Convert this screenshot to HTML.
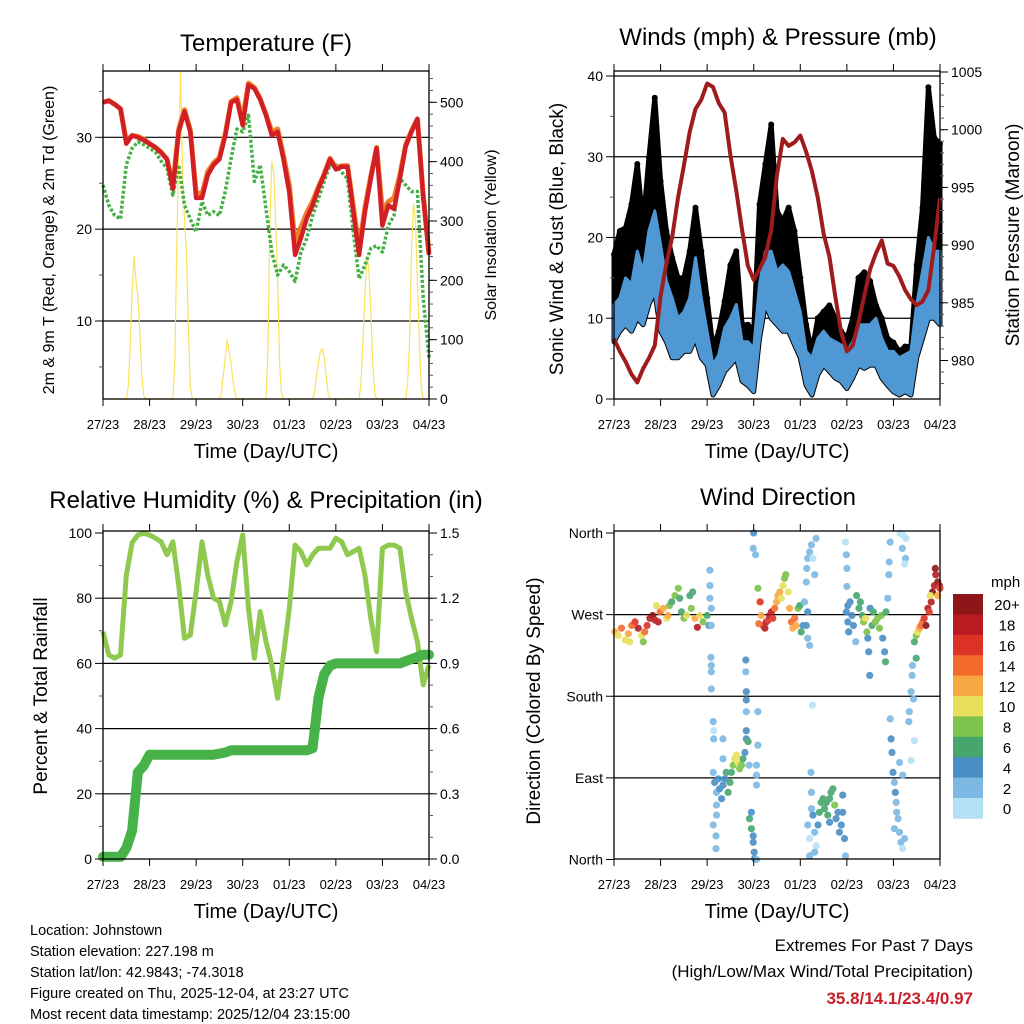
<!DOCTYPE html>
<html><head><meta charset="utf-8"><title>Johnstown station meteogram</title>
<style>
html,body{margin:0;padding:0;background:#fff;}
svg{display:block;font-family:"Liberation Sans",Arial,sans-serif;}
</style></head>
<body>
<svg id="chart" width="1024" height="1024" viewBox="0 0 1024 1024" xmlns="http://www.w3.org/2000/svg">
<rect x="0" y="0" width="1024" height="1024" fill="#fff"/>
<g id="layer"></g>
<text x="266" y="51" font-size="24" text-anchor="middle">Temperature (F)</text>
<text x="778" y="45" font-size="24" text-anchor="middle">Winds (mph) &amp; Pressure (mb)</text>
<text x="266" y="508" font-size="24" text-anchor="middle">Relative Humidity (%) &amp; Precipitation (in)</text>
<text x="778" y="505" font-size="24" text-anchor="middle">Wind Direction</text>
<text x="266" y="458" font-size="20" text-anchor="middle">Time (Day/UTC)</text>
<text x="777" y="458" font-size="20" text-anchor="middle">Time (Day/UTC)</text>
<text x="266" y="918" font-size="20" text-anchor="middle">Time (Day/UTC)</text>
<text x="777" y="918" font-size="20" text-anchor="middle">Time (Day/UTC)</text>
<text transform="translate(54,240) rotate(-90)" font-size="16" text-anchor="middle">2m &amp; 9m T (Red, Orange) &amp; 2m Td (Green)</text>
<text transform="translate(496,235) rotate(-90)" font-size="16" text-anchor="middle">Solar Insolation (Yellow)</text>
<text transform="translate(563,239) rotate(-90)" font-size="19" text-anchor="middle">Sonic Wind &amp; Gust (Blue, Black)</text>
<text transform="translate(1019,235) rotate(-90)" font-size="19" text-anchor="middle">Station Pressure (Maroon)</text>
<text transform="translate(47,696) rotate(-90)" font-size="19" text-anchor="middle">Percent &amp; Total Rainfall</text>
<text transform="translate(540,701) rotate(-90)" font-size="19" text-anchor="middle">Direction (Colored By Speed)</text>
<g font-size="14.5">
<text x="30" y="935">Location: Johnstown</text>
<text x="30" y="956">Station elevation: 227.198 m</text>
<text x="30" y="977">Station lat/lon: 42.9843; -74.3018</text>
<text x="30" y="998">Figure created on Thu, 2025-12-04, at 23:27 UTC</text>
<text x="30" y="1019">Most recent data timestamp: 2025/12/04 23:15:00</text>
</g>
<g text-anchor="end">
<text x="973" y="951" font-size="17">Extremes For Past 7 Days</text>
<text x="973" y="977" font-size="17">(High/Low/Max Wind/Total Precipitation)</text>
<text x="973" y="1004" font-size="17" font-weight="bold" fill="#c8202a">35.8/14.1/23.4/0.97</text>
</g>
</svg>
<script>
// ---------- data (3-hourly unless noted) ----------
const dayLabels = ['27/23','28/23','29/23','30/23','01/23','02/23','03/23','04/23'];
const temp2m = [33.8,34.0,33.6,33.1,29.3,30.2,30.0,29.7,29.3,28.9,28.3,27.6,24.4,30.6,32.8,30.6,23.4,23.4,25.9,27.0,27.6,30.2,33.8,34.1,31.3,35.7,35.3,34.1,32.4,30.2,30.6,27.6,24.0,17.2,19.0,21.2,22.6,24.4,25.9,27.6,26.5,26.8,26.8,21.9,17.2,21.9,25.5,28.8,20.4,22.6,22.2,25.5,29.0,30.6,32.0,23.4,17.2];
const temp9m = [33.8,34.0,33.6,33.1,29.6,30.2,30.1,29.8,29.3,28.9,28.4,27.6,24.8,30.9,33.0,30.8,24.0,23.8,26.3,27.2,27.8,30.4,33.9,34.3,32.0,35.9,35.4,34.2,32.5,30.6,30.9,28.0,24.8,18.5,20.2,21.8,23.0,24.6,26.0,27.7,26.7,26.9,26.9,22.5,17.8,22.4,25.8,28.9,22.0,23.0,23.4,25.9,29.2,30.7,32.0,23.8,17.4];
const dewpoint = [24.8,22.6,21.5,21.1,27.0,28.8,29.5,29.2,28.8,28.4,27.4,26.6,23.7,27.0,22.6,21.1,19.7,23.0,21.5,21.9,21.5,24.1,27.7,30.9,30.6,32.4,25.2,27.0,22.2,17.5,15.0,16.1,15.4,14.3,17.5,19.0,21.5,23.3,25.2,27.0,27.0,26.2,25.5,19.7,14.6,16.1,17.9,18.2,17.5,20.4,21.5,25.5,24.8,24.1,24.1,12.5,6.0];
// hourly solar insolation, 24 values per day
const solar = [
0,0,0,0,0,0,0,0,0,0,0,0,0,20,90,180,240,200,170,110,40,5,0,0,
0,0,0,0,0,0,0,0,0,0,0,0,0,60,250,420,550,380,300,250,120,20,0,0,
0,0,0,0,0,0,0,0,0,0,0,0,0,10,40,70,100,80,60,30,10,0,0,0,
0,0,0,0,0,0,0,0,0,0,0,0,0,80,300,400,380,300,200,60,10,0,0,0,
0,0,0,0,0,0,0,0,0,0,0,0,0,10,40,60,80,85,70,40,10,0,0,0,
0,0,0,0,0,0,0,0,0,0,0,0,0,30,100,180,240,220,150,60,10,0,0,0,
0,0,0,0,0,0,0,0,0,0,0,0,0,30,100,250,330,300,200,100,20,0,0,0,0];
const windLow = [7.1,8.4,9.2,8.4,10.0,9.2,11.7,13.3,8.4,7.1,5.1,5.1,5.9,5.9,7.5,5.1,4.2,0.5,1.7,3.4,4.2,5.1,2.2,1.7,0.9,7.5,11.7,10.0,9.2,8.4,8.4,6.7,5.1,1.7,0.5,3.0,4.2,3.4,2.6,2.2,1.3,2.6,4.2,3.8,4.2,4.2,2.6,1.7,0.9,0.5,0.9,0.5,5.1,7.5,10.0,10.0,9.2];
const windHigh = [11.7,12.5,15.0,14.2,18.3,15.8,20.8,23.3,19.1,14.6,12.5,10.0,10.8,12.5,17.5,12.5,8.4,4.2,5.5,8.8,10.0,11.7,7.1,7.1,6.3,14.2,18.3,18.3,15.8,16.6,15.8,13.3,10.8,5.9,5.1,7.5,8.4,7.5,7.1,6.7,5.9,7.1,9.2,9.2,9.2,10.0,7.5,5.9,5.9,5.1,5.5,5.9,11.7,15.8,20.0,18.3,18.3];
const gustMax = [17.9,20.8,21.2,24.1,29.1,21.6,29.9,37.3,27.0,20.8,17.5,15.0,15.0,18.3,23.7,18.3,12.5,6.3,8.4,12.1,16.6,18.3,9.2,9.2,8.4,24.1,29.1,34.0,23.3,22.0,23.7,20.8,15.0,9.2,5.9,10.0,10.8,11.6,10.0,8.4,7.5,10.0,15.0,15.7,14.6,11.6,10.0,7.5,7.0,5.9,6.5,6.5,16.6,23.7,38.6,32.4,31.6];
const pressure = [981.9,980.8,979.9,978.8,978.1,979.3,980.2,981.3,985.6,988.4,990.7,994.1,996.9,999.8,1001.8,1002.6,1004.0,1003.7,1002.3,1001.5,997.8,994.7,991.3,988.2,987.0,987.9,989.0,991.3,996.1,999.2,998.6,998.9,999.5,998.1,996.4,994.1,991.0,989.0,985.6,982.5,980.8,981.3,983.3,985.6,987.9,989.3,990.4,988.4,988.2,987.3,986.1,985.3,984.8,985.1,986.1,989.9,994.1];
const relHum = [69.7,62.6,61.6,62.6,87,97,99.4,99.9,99.4,98.4,97.3,93.3,97.3,84,67.7,68.7,82,97.3,87,80,79,71.8,79,91.2,99.4,76.9,61.6,75.9,66.7,59.5,49.3,62.6,76.9,96.3,94.3,90.2,93.3,95.3,95.3,95.3,98.4,97.3,93.3,94.3,95.3,87,73.8,63.6,95.3,96.3,96.3,95.3,82,73.8,66.7,53.4,59.5];
const precip = [0.01,0.01,0.01,0.01,0.05,0.13,0.40,0.43,0.48,0.48,0.48,0.48,0.48,0.48,0.48,0.48,0.48,0.48,0.48,0.48,0.485,0.49,0.50,0.50,0.50,0.50,0.50,0.50,0.50,0.50,0.50,0.50,0.50,0.50,0.50,0.50,0.51,0.74,0.85,0.89,0.90,0.90,0.90,0.90,0.90,0.90,0.90,0.90,0.90,0.90,0.90,0.90,0.91,0.92,0.93,0.94,0.94];
// wind direction observations: [day since 27/23, degrees, speed mph]
const dirObs = [
[0.02,251,12],[0.09,247,10],[0.16,255,14],[0.24,242,10],[0.31,249,12],[0.38,258,14],[0.45,262,16],[0.52,255,18],[0.59,247,10],[0.66,251,14],[0.71,258,16],[0.77,266,18],[0.83,269,20],[0.88,264,18],[0.95,262,18],[0.99,273,14],[1.06,277,12],[1.13,266,10],[1.19,280,8],[1.24,284,6],[1.31,291,8],[1.38,299,8],[1.45,273,6],[1.50,266,8],[1.56,269,10],[1.63,291,6],[1.69,295,6],[1.74,266,12],[1.79,256,18],[1.84,269,10],[1.91,262,8],[2.0,269,6],[2.04,258,4],[0.34,240,10],[0.63,240,8],[0.91,280,10],[1.16,269,12],[1.41,288,6],[1.66,277,8],
[2.06,319,2],[2.06,302,2],[2.06,288,2],[2.09,277,2],[2.09,258,2],[2.08,223,2],[2.09,214,2],[2.09,207,2],[2.09,188,2],[2.13,152,2],[2.14,142,0],[2.14,133,2],
[2.13,96,2],[2.16,85,4],[2.2,74,2],[2.24,89,4],[2.27,78,4],[2.31,67,4],[2.34,82,4],[2.38,89,4],[2.41,96,6],[2.45,74,6],[2.49,85,6],[2.52,96,6],[2.56,104,8],[2.59,111,10],[2.63,115,10],[2.66,107,10],[2.7,100,8],[2.74,104,8],[2.77,111,6],[2.81,118,4],[2.84,133,4],[2.88,130,6],[2.9,104,2],[2.2,49,2],[2.19,26,2],[2.19,12,2],[2.13,38,2],[2.34,133,2],[2.34,111,2],[2.2,60,2],
[2.83,220,4],[2.83,207,2],[2.84,185,4],[2.84,176,4],[2.84,163,2],[2.84,142,4],[2.91,45,6],[2.95,34,6],[2.99,19,4],[3.01,8,4],[3.02,1,4],[3.06,0,2],[3.06,104,2],[3.06,93,2],[3.06,82,2],[3.09,126,2],[3.09,163,2],[3.0,360,4],[2.99,343,2],[3.04,336,2],[2.95,52,4],[2.99,26,4],
[3.09,299,8],[3.13,284,10],[3.16,269,12],[3.2,258,16],[3.24,255,18],[3.27,262,18],[3.31,264,16],[3.34,269,18],[3.38,273,18],[3.41,266,16],[3.45,277,14],[3.49,284,12],[3.52,291,12],[3.56,295,12],[3.59,288,10],[3.63,302,10],[3.66,310,8],[3.69,314,8],[3.74,295,10],[3.77,277,12],[3.81,262,14],[3.84,255,12],[3.88,266,14],[3.91,258,12],[3.95,277,8],[3.99,280,6],[4.02,251,6],[4.06,258,4],[3.11,260,14],[3.14,284,16],
[4.09,284,2],[4.13,306,2],[4.14,321,2],[4.16,332,2],[4.2,339,2],[4.24,347,2],[4.27,332,0],[4.31,314,2],[4.34,354,2],[4.16,244,2],[4.2,236,2],[4.13,258,4],[4.16,273,4],[4.26,170,0],[4.23,96,2],
[4.16,38,2],[4.2,23,0],[4.2,4,2],[4.24,56,2],[4.27,49,4],[4.31,30,2],[4.34,15,0],[4.38,38,4],[4.41,52,6],[4.45,63,6],[4.49,67,6],[4.52,56,6],[4.56,63,6],[4.59,49,6],[4.63,67,6],[4.66,74,6],[4.7,78,6],[4.74,60,8],[4.77,45,4],[4.81,52,4],[4.84,30,4],[4.88,38,4],[4.91,52,4],[4.95,23,4],[4.97,4,2],[4.24,74,2],[4.31,8,2],[4.63,41,4],[4.91,71,4],
[4.97,350,0],[4.99,336,2],[5.0,321,2],[5.0,301,2],[5.02,280,4],
[4.99,273,4],[5.02,262,4],[5.04,251,4],[5.07,284,4],[5.11,269,4],[5.14,258,4],[5.19,240,2],[5.21,291,6],[5.26,277,6],[5.29,284,6],[5.33,269,6],[5.36,262,8],[5.4,266,10],[5.43,251,8],[5.45,244,4],[5.47,229,4],[5.49,203,4],[5.5,277,4],[5.54,258,6],[5.57,273,6],[5.61,262,8],[5.66,266,8],[5.7,255,8],[5.74,269,8],[5.77,244,4],[5.81,229,4],[5.83,218,6],[5.84,273,6],[5.88,288,2],[5.9,314,2],[5.91,328,2],[5.93,350,2],
[5.93,155,2],[5.95,133,4],[5.97,118,4],[5.99,96,4],[6.02,85,2],[6.04,74,4],[6.06,63,2],[6.07,52,2],[6.1,45,2],[6.13,30,2],[6.16,19,2],[6.2,12,0],[6.24,23,2],[6.13,107,2],[6.2,93,2],[6.02,34,2],
[6.14,361,0],[6.2,358,0],[6.27,354,0],[6.19,343,2],[6.26,332,2],[6.24,326,0],
[6.33,152,2],[6.34,163,2],[6.38,185,2],[6.4,203,2],[6.41,214,2],[6.43,177,2],[6.45,131,0],[6.38,109,0],[6.49,222,6],[6.45,240,6],[6.49,247,8],[6.52,251,10],[6.56,255,12],[6.59,258,14],[6.63,262,14],[6.66,266,16],[6.7,258,20],[6.74,277,18],[6.77,273,16],[6.81,284,18],[6.84,295,20],[6.88,302,18],[6.91,314,18],[6.95,306,20],[6.99,302,18],[7.0,299,16],[6.95,291,12],[6.9,321,20],[6.79,291,10]
];
const dirDays = dirObs.map(p => p[0]);
const dirDegs = dirObs.map(p => p[1]);
const dirSpeeds = dirObs.map(p => p[2]);
const speedColors = ['#b5e1f6','#7db8e3','#4a8ec6','#47a66e','#7dc24b','#e8e05a','#f7a843','#f26b2b','#dd3327','#b81b22','#8e1518'];
const speedLabels = ['0','2','4','6','8','10','12','14','16','18','20+'];

// ---------- helpers ----------
const NS = 'http://www.w3.org/2000/svg';
const layer = document.getElementById('layer');
function mk(tag, attrs, parent) {
  const el = document.createElementNS(NS, tag);
  for (const k in attrs) el.setAttribute(k, attrs[k]);
  (parent || layer).appendChild(el);
  return el;
}
const HOURS = 168;
function xAxis(x0, x1) { return h => x0 + (h / HOURS) * (x1 - x0); }
function lin(v0, p0, v1, p1) { return v => p0 + (v - v0) * (p1 - p0) / (v1 - v0); }
function pts(arr, sx, sy, step) { return arr.map((v, i) => sx(i * step).toFixed(1) + ',' + sy(v).toFixed(1)).join(' '); }

function frame(name, x0, y0, x1, y1, gridYs) {
  const g = mk('g', {});
  
  
  gridYs.forEach(y => {
    const l = mk('line', {x1: x0, x2: x1, y1: y, y2: y, stroke: '#000', 'stroke-width': 1.2}, g);
    
    
  });
  return g;
}
function box(name, x0, y0, x1, y1) {
  const r = mk('rect', {x: x0, y: y0, width: x1 - x0, height: y1 - y0, fill: 'none', stroke: '#000', 'stroke-width': 1.3});
  
  
}
function xTicks(name, x0, x1, y0, y1, labelY) {
  const sx = xAxis(x0, x1);
  const g = mk('g', {});
  
  
  dayLabels.forEach((lab, i) => {
    const x = sx(i * 24);
    mk('line', {x1: x, x2: x, y1: y1, y2: y1 + 7, stroke: '#000', 'stroke-width': 1}, g);
    mk('line', {x1: x, x2: x, y1: y0, y2: y0 - 7, stroke: '#000', 'stroke-width': 1}, g);
    const t = mk('text', {x: x, y: labelY, 'font-size': 13, 'text-anchor': 'middle'}, g);
    
    
    t.textContent = lab;
  });
}
function yTicks(name, side, xEdge, vals, sy, labels, minorVals) {
  const g = mk('g', {});
  
  
  const d = side === 'left' ? -1 : 1;
  (minorVals || []).forEach(v => {
    const y = sy(v);
    mk('line', {x1: xEdge, x2: xEdge + d * 4, y1: y, y2: y, stroke: '#555', 'stroke-width': 1}, g);
  });
  vals.forEach((v, i) => {
    const y = sy(v);
    mk('line', {x1: xEdge, x2: xEdge + d * 8, y1: y, y2: y, stroke: '#000', 'stroke-width': 1}, g);
    const t = mk('text', {x: xEdge + d * 11, y: y + 5, 'font-size': 14, 'text-anchor': side === 'left' ? 'end' : 'start'}, g);
    
    
    t.textContent = labels[i];
  });
}
function range(a, b, s) { const r = []; for (let v = a; v <= b + 1e-9; v += s) r.push(+v.toFixed(4)); return r; }

// ---------- Panel 1: Temperature ----------
(function () {
  const X0 = 103, X1 = 429, Y0 = 71, Y1 = 399;
  const sx = xAxis(X0, X1);
  const sy = lin(30, 137.3, 10, 321);
  const ss = lin(0, 399, 500, 102.3);
  frame('temperature', X0, Y0, X1, Y1, [10, 20, 30].map(sy));
  const sol = mk('polyline', {points: pts(solar, sx, ss, 1), fill: 'none', stroke: '#f9e35c', 'stroke-width': 1.2, 'stroke-linejoin': 'round'});
  
  
  const dp = mk('polyline', {points: pts(dewpoint, sx, sy, 3), fill: 'none', stroke: '#47b045', 'stroke-width': 3.5, 'stroke-dasharray': '3 2', 'stroke-linejoin': 'round'});
  
  
  const t9 = mk('polyline', {points: pts(temp9m, sx, sy, 3), fill: 'none', stroke: '#f07f2a', 'stroke-width': 5, 'stroke-linejoin': 'round'});
  
  
  const t2 = mk('polyline', {points: pts(temp2m, sx, sy, 3), fill: 'none', stroke: '#d21f26', 'stroke-width': 4.5, 'stroke-linejoin': 'round'});
  
  
  box('temperature', X0, Y0, X1, Y1);
  xTicks('temperature', X0, X1, Y0, Y1, 429);
  yTicks('temperature-left-axis', 'left', X0, [10, 20, 30], sy, ['10', '20', '30'], [5, 15, 25, 35]);
  yTicks('solar-right-axis', 'right', X1, [0, 100, 200, 300, 400, 500], ss, ['0', '100', '200', '300', '400', '500'], range(20, 540, 20));
})();

// ---------- Panel 2: Winds & Pressure ----------
(function () {
  const X0 = 614, X1 = 940, Y0 = 71, Y1 = 399;
  const sx = xAxis(X0, X1);
  const sy = lin(0, 399, 40, 76);
  const sp = lin(1005, 72, 1000, 129.7);
  frame('winds', X0, Y0, X1, Y1, [10, 20, 30, 40].map(sy));
  const up = gustMax.map((v, i) => sx(i * 3).toFixed(1) + ',' + sy(v).toFixed(1));
  const lo = windLow.map((v, i) => sx(i * 3).toFixed(1) + ',' + sy(v).toFixed(1)).reverse();
  const gp = mk('polygon', {points: up.concat(lo).join(' '), fill: '#000', stroke: '#000', 'stroke-width': 5, 'stroke-linejoin': 'round'});
  
  
  gustMax.forEach((v, i) => {
    const c = mk('circle', {cx: sx(i * 3), cy: sy(v), r: 3, fill: '#000'});
    
    
  });
  const hi = windHigh.map((v, i) => sx(i * 3).toFixed(1) + ',' + sy(v).toFixed(1));
  const bp = mk('polygon', {points: hi.concat(lo).join(' '), fill: '#4f98d3', stroke: '#4f98d3', 'stroke-width': 3, 'stroke-linejoin': 'round'});
  
  
  const pl = mk('polyline', {points: pts(pressure, sx, sp, 3), fill: 'none', stroke: '#a01c1c', 'stroke-width': 4, 'stroke-linejoin': 'round'});
  
  
  box('winds', X0, Y0, X1, Y1);
  xTicks('winds', X0, X1, Y0, Y1, 429);
  yTicks('wind-left-axis', 'left', X0, [0, 10, 20, 30, 40], sy, ['0', '10', '20', '30', '40'], [5, 15, 25, 35]);
  yTicks('pressure-right-axis', 'right', X1, [980, 985, 990, 995, 1000, 1005], sp, ['980', '985', '990', '995', '1000', '1005'], range(978, 1005, 1));
})();

// ---------- Panel 3: RH & Precip ----------
(function () {
  const X0 = 103, X1 = 429, Y0 = 531, Y1 = 859;
  const sx = xAxis(X0, X1);
  const sy = lin(0, 859, 100, 533);
  const sp = lin(0, 859, 1.5, 533);
  frame('humidity', X0, Y0, X1, Y1, [20, 40, 60, 80].map(sy));
  const rh = mk('polyline', {points: pts(relHum, sx, sy, 3), fill: 'none', stroke: '#8fc94f', 'stroke-width': 5, 'stroke-linejoin': 'round'});
  
  
  const pr = mk('polyline', {points: pts(precip, sx, sp, 3), fill: 'none', stroke: '#47b247', 'stroke-width': 10, 'stroke-linejoin': 'round', 'stroke-linecap': 'round'});
  
  
  box('humidity', X0, Y0, X1, Y1);
  xTicks('humidity', X0, X1, Y0, Y1, 889);
  yTicks('humidity-left-axis', 'left', X0, [0, 20, 40, 60, 80, 100], sy, ['0', '20', '40', '60', '80', '100'], [10, 30, 50, 70, 90]);
  yTicks('precip-right-axis', 'right', X1, [0, 0.3, 0.6, 0.9, 1.2, 1.5], sp, ['0.0', '0.3', '0.6', '0.9', '1.2', '1.5'], range(0.1, 1.5, 0.1));
})();

// ---------- Panel 4: Wind direction ----------
(function () {
  const X0 = 614, X1 = 940, Y0 = 531, Y1 = 859;
  const sx = xAxis(X0, X1);
  const sy = lin(0, 859.5, 360, 533);
  frame('direction', X0, Y0, X1, Y1, [90, 180, 270].map(sy));
  const g = mk('g', {opacity: 0.9});
  
  
  dirDays.forEach((d, i) => {
    const bin = Math.max(0, Math.min(10, Math.round(dirSpeeds[i] / 2)));
    const c = mk('circle', {cx: sx(d * 24).toFixed(1), cy: sy(Math.min(360, dirDegs[i])).toFixed(1), r: 3.6, fill: speedColors[bin]}, g);
    
    
  });
  box('direction', X0, Y0, X1, Y1);
  xTicks('direction', X0, X1, Y0, Y1, 889);
  yTicks('direction-left-axis', 'left', X0, [0, 90, 180, 270, 360], sy, ['North', 'East', 'South', 'West', 'North'], []);
  // colorbar
  const cb = mk('g', {});
  
  
  const top = 594, bh = 20.4;
  for (let k = 0; k < speedColors.length; k++) {
    const idx = speedColors.length - 1 - k;
    const r = mk('rect', {x: 953, y: (top + k * bh).toFixed(1), width: 30, height: (bh + 0.4).toFixed(1), fill: speedColors[idx]}, cb);
    
    
    const t = mk('text', {x: 1007, y: (top + k * bh + bh / 2 + 6).toFixed(1), 'font-size': 15, 'text-anchor': 'middle'}, cb);
    
    
    t.textContent = speedLabels[idx];
  }
  const mt = mk('text', {x: 991, y: 587, 'font-size': 15}, cb);
  
  
  mt.textContent = 'mph';
})();
</script>
</body></html>
